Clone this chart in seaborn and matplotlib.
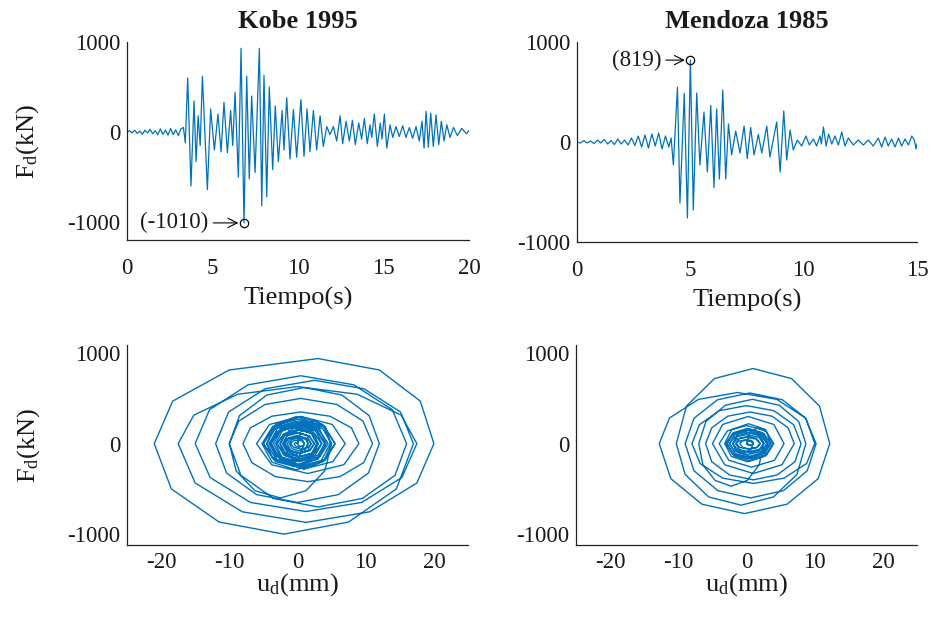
import matplotlib
matplotlib.use("Agg")
import matplotlib.pyplot as plt
import numpy as np
import pandas as pd
import seaborn as sns

# ---------------- data ----------------
kobe_t = [0.0, 0.15, 0.3, 0.45, 0.6, 0.75, 0.9, 1.05, 1.2, 1.35, 1.5, 1.65, 1.8, 1.95,
          2.1, 2.25, 2.4, 2.55, 2.7, 2.85, 3.0, 3.15, 3.3, 3.41, 3.55, 3.74, 3.92, 4.04,
          4.16, 4.28, 4.41, 4.70, 4.89, 5.11, 5.32, 5.50, 5.67, 5.87, 6.06, 6.18, 6.32,
          6.51, 6.67, 6.84, 7.0, 7.15, 7.29, 7.49, 7.74, 7.88, 8.01, 8.17, 8.32, 8.52,
          8.67, 8.85, 9.07, 9.18, 9.34, 9.53, 9.73, 9.92, 10.17, 10.35, 10.53, 10.70,
          10.90, 11.09, 11.29, 11.48, 11.68, 11.87, 12.07, 12.26, 12.46, 12.61, 12.81,
          13.0, 13.18, 13.35, 13.55, 13.72, 13.88, 14.05, 14.21, 14.31, 14.46, 14.64,
          14.81, 14.91, 15.05, 15.19, 15.38, 15.54, 15.73, 15.92, 16.12, 16.31, 16.51,
          16.70, 16.90, 17.09, 17.25, 17.37, 17.49, 17.62, 17.76, 17.91, 18.07, 18.23,
          18.38, 18.54, 18.70, 18.89, 19.09, 19.32, 19.57, 19.86, 20.0]
kobe_F = [0, 15, -10, 20, -15, 10, -25, 20, -10, 30, -20, 15, -30, 35,
          -25, 20, -35, 40, -30, 25, -40, 35, 50, -120, 600, -600, 345, -330,
          180, -150, 620, -640, 255, -200, 200, -220, 330, -230, 240, -150, 440,
          -500, 930, -1010, 620, -520, 400, -450, 930, -820, 630, -720, 500, -420,
          290, -330, 240, -200, 380, -300, 250, -280, 360, -270, 255, -220,
          240, -200, 180, -160, 60, -30, 60, -100, 180, -130, 120,
          -100, 130, -140, 100, -80, 150, -130, 80, -60, 200, -160,
          100, -80, 200, -180, 80, -60, 60, -50, 70, -60, 50,
          -70, 60, -100, 120, -180, 230, -170, 210, -160, 190, -140,
          120, -100, 80, -60, 50, -40, 40, -20, 20]

mendoza_t = [0.0, 0.15, 0.3, 0.45, 0.6, 0.75, 0.9, 1.05, 1.2, 1.35, 1.5, 1.65, 1.8,
             1.95, 2.1, 2.25, 2.4, 2.55, 2.7, 2.85, 3.0, 3.15, 3.3, 3.45, 3.6, 3.75,
             3.9, 4.05, 4.15, 4.25, 4.43, 4.54, 4.73, 4.87, 5.0, 5.13, 5.28, 5.42,
             5.60, 5.75, 5.90, 6.04, 6.16, 6.28, 6.43, 6.56, 6.68, 6.82, 7.0, 7.19,
             7.37, 7.51, 7.66, 7.81, 8.0, 8.15, 8.37, 8.51, 8.81, 8.96, 9.12, 9.25,
             9.40, 9.54, 9.72, 9.91, 10.1, 10.25, 10.43, 10.57, 10.72, 10.78, 10.87,
             10.99, 11.1, 11.24, 11.38, 11.53, 11.68, 11.82, 11.97, 12.19, 12.41,
             12.63, 12.85, 13.07, 13.29, 13.44, 13.59, 13.73, 13.88, 14.03, 14.18,
             14.32, 14.47, 14.62, 14.77, 14.88, 14.96, 15.0]
mendoza_F = [0, -10, 15, -10, 10, -15, 20, -10, 25, -20, 15, -25, 30,
             -20, 20, -30, 40, -35, 60, -50, 70, -60, 80, -40, 90, -70,
             60, -50, 40, -230, 550, -610, 485, -760, 819, -680, 490, -230,
             300, -300, 365, -455, 330, -370, 520, -370, 180, -130, 110, -110,
             160, -165, 145, -130, 75, -110, 160, -150, 200, -300, 310, -180,
             120, -80, 20, -40, 60, -30, 30, -40, 60, -20, 150,
             -40, 80, -20, 60, -30, 100, -40, 40, -30, 20,
             -30, 20, -40, 40, -50, 50, -40, 30, -50, 40,
             -40, 30, -30, 60, 20, -70, -20]

kobe_u_loop = [0,
    0.2, 0.75, 1.3, 1.5, 1.0, -0.25, -1.5, -2, -1.3, 0.5, 2.3, 3, 2.0, -0.5, -3.0, -4,
    -2.7, 0.5, 3.7, 5, 4.0, 1.25, -2.5, -6.25, -9.0, -10,
    -8.5, -4.5, 1, 6.5, 10.5, 12, 10.4, 6, 0, -6, -10.4, -12,
    -10.1, -4.75, 2.5, 9.75, 15.1, 17, 14.5, 7.5, -2, -11.5, -18.5, -21,
    -18.3, -10, 3, 12, 18, 20, 17.5, 10.6, 1.25, -8.1, -15.0, -17.5,
    -15.2, -8.75, 0, 8.75, 15.2, 17.5, 15.3, 9.4, 1.25, -6.9, -12.8, -15,
    -12.9, -7.25, 0.5, 8.25, 13.9, 16, 14.3, 9.5, 3, -3.5, -8.3, -10,
    -8.6, -4.75, 0.5, 5.75, 9.6, 11, 9.7, 6.25, 1.5, -3.25, -6.7, -8,
    -6.9, -3.75, 0.5, 4.75, 7.9, 9, 6.8, 1.5, -3.8, -6,
    -4.1, 0.5, 5.1, 7, 5.2, 1, -3.2, -5, -3.5, 0.25, 4.0, 5.5, 4.0, 0.25, -3.5, -5,
    -3.6, -0.25, 3.1, 4.5, 3.3, 0.25, -2.8, -4, -2.8, 0, 2.8, 4, 3.0, 0.5, -2.0, -3,
    -2.05, 0.25, 2.55, 3.5, 2.55, 0.25, -2.05, -3, -2.2, -0.25, 1.7, 2.5,
    1.85, 0.25, -1.35, -2, -1.4, 0, 1.4, 2, 1.55, 0.5, -0.55, -1, -0.7, 0, 0.7, 1,
    0.2, -1.75, -3.7, -4.5, -3.25, -0.25, 2.75, 4, 2.9, 0.25, -2.4, -3.5,
    -2.55, -0.25, 2.05, 3, 2.2, 0.25, -1.7, -2.5, -1.85, -0.25, 1.35, 2,
    1.5, 0.25, -1.0, -1.5, -1.1, -0.25, 0.6, 1, 0.78, 0.25, -0.28, -0.5, -0.25, 0,
    0.7, 2.4, 4.1, 4.8, 3.34, -0.2, -3.74, -5.2, -3.63, 0.15, 3.93, 5.5,
    4.04, 0.5, -3.04, -4.5, -3.23, -0.15, 2.93, 4.2, 3.03, 0.2, -2.63, -3.8,
    -2.51, 0.6, 3.71, 5, 3.8, 0.9, -2.0, -3.2, -2.2, 0.2, 2.6, 3.6,
    2.46, -0.3, -3.06, -4.2, -3.15, -0.6, 1.95, 3, 2.18, 0.2, -1.78, -2.6,
    -1.81, 0.1, 2.01, 2.8, 2.07, 0.3, -1.47, -2.2, -1.53, 0.1, 1.73, 2.4,
    1.78, 0.3, -1.18, -1.8, -1.3, -0.1, 1.1, 1.6, 1.19, 0.2, -0.79, -1.2,
    -0.88, -0.1, 0.68, 1, 0.85, 0.5, 0.15, 0]
kobe_F_loop = [0,
    42, 60, 42, 0, -85, -120, -85, 0, 141, 200, 141, 0, -177, -250, -177, 0,
    212, 300, 212, 0, -300, -520, -600, -520, -300, 0,
    310, 537, 620, 537, 310, 0, -325, -563, -650, -563, -325, 0,
    350, 606, 700, 606, 350, 0, -500, -866, -1000, -866, -500, 0,
    470, 814, 940, 814, 470, 0, -435, -753, -870, -753, -435, 0,
    315, 546, 630, 546, 315, 0, -375, -650, -750, -650, -375, 0,
    375, 650, 750, 650, 375, 0, -350, -606, -700, -606, -350, 0,
    250, 433, 500, 433, 250, 0, -210, -364, -420, -364, -210, 0,
    175, 303, 350, 303, 175, 0, -233, -330, -233, 0,
    212, 300, 212, 0, -198, -280, -198, 0, 177, 250, 177, 0, -177, -250, -177, 0,
    156, 220, 156, 0, -141, -200, -141, 0, 141, 200, 141, 0, -127, -180, -127, 0,
    106, 150, 106, 0, -99, -140, -99, 0, 85, 120, 85, 0,
    -71, -100, -71, 0, 57, 80, 57, 0, -42, -60, -42, 0, 28, 40, 28, 0,
    -156, -220, -156, 0, 170, 240, 170, 0, -163, -230, -163, 0,
    134, 190, 134, 0, -120, -170, -120, 0, 92, 130, 92, 0,
    -78, -110, -78, 0, 50, 70, 50, 0, -28, -40, -28, 0, 12, 0,
    184, 260, 184, 0, -205, -290, -205, 0, 191, 270, 191, 0,
    -184, -260, -184, 0, 212, 300, 212, 0, -170, -240, -170, 0,
    163, 230, 163, 0, -198, -280, -198, 0, 148, 210, 148, 0,
    -141, -200, -141, 0, 127, 180, 127, 0, -134, -190, -134, 0,
    113, 160, 113, 0, -106, -150, -106, 0, 85, 120, 85, 0,
    -78, -110, -78, 0, 64, 90, 64, 0, -57, -80, -57, 0,
    42, 60, 42, 0, -21, -30, -21, 0]

mendoza_u_loop = [0,
    0.15, 0.5, 0.85, 1, 0.56, -0.5, -1.56, -2, -1.35, 0.25, 1.85, 2.5,
    1.86, 0.1, -2.25, -4.6, -6.4, -7, -5.95, -3.1, 0.85, 4.8, 7.65, 8.7,
    7.4, 3.95, -0.8, -5.55, -9.0, -10.3, -8.8, -4.7, 0.95, 6.6, 10.7, 12.2,
    10.5, 5.95, -0.3, -6.55, -11.1, -12.8, -11.3, -7.05, -1.3, 4.45, 8.65, 10.2,
    8.9, 5.4, 0.6, -4.2, -7.7, -9, -7.7, -4.25, 0.5, 5.25, 8.7, 10,
    8.8, 5.5, 1, -3.5, -6.8, -8, -6.9, -4, 0, 4, 6.9, 8,
    7.1, 4.5, 1, -2.5, -5.1, -6, -5.1, -2.75, 0.5, 3.75, 6.1, 7,
    5.2, 1, -3.2, -5, -3.5, 0.25, 4.0, 5.5, 4.1, 0.75, -2.6, -4, -2.8, 0, 2.8, 4,
    3.0, 0.5, -2.0, -3, -2.05, 0.25, 2.55, 3.5, 2.55, 0.25, -2.05, -3,
    -2.1, 0, 2.1, 3, 2.2, 0.25, -1.7, -2.5, -1.77, 0, 1.77, 2.5,
    1.85, 0.25, -1.35, -2, -1.4, 0, 1.4, 2, 1.5, 0.25, -1.0, -1.5,
    -1.1, -0.25, 0.6, 1, 0.85, 0.5, 0.15, 0,
    0.51, 1.75, 2.99, 3.5, 2.52, 0.15, -2.22, -3.2, -2.17, 0.3, 2.77, 3.8,
    2.83, 0.5, -1.83, -2.8, -1.92, 0.2, 2.32, 3.2, 2.37, 0.35, -1.67, -2.5,
    -1.7, 0.25, 2.2, 3, 2.27, 0.5, -1.27, -2, -1.33, 0.3, 1.93, 2.6,
    1.98, 0.5, -0.98, -1.6, -1.07, 0.2, 1.47, 2, 1.56, 0.5, -0.56, -1,
    -0.7, 0, 0.7, 1, 0.88, 0.6, 0.32, 0.2]
mendoza_F_loop = [0,
    28, 40, 28, 0, -71, -100, -71, 0, 106, 150, 106, 0,
    -235, -407, -470, -407, -235, 0, 245, 424, 490, 424, 245, 0,
    -340, -589, -680, -589, -340, 0, 415, 719, 830, 719, 415, 0,
    -387, -669, -773, -669, -387, 0, 283, 489, 565, 489, 283, 0,
    -300, -520, -600, -520, -300, 0, 280, 485, 560, 485, 280, 0,
    -220, -381, -440, -381, -220, 0, 210, 364, 420, 364, 210, 0,
    -200, -346, -400, -346, -200, 0, 175, 303, 350, 303, 175, 0,
    -233, -330, -233, 0, 212, 300, 212, 0, -184, -260, -184, 0, 141, 200, 141, 0,
    -120, -170, -120, 0, 113, 160, 113, 0, -106, -150, -106, 0,
    92, 130, 92, 0, -85, -120, -85, 0, 71, 100, 71, 0,
    -64, -90, -64, 0, 50, 70, 50, 0, -42, -60, -42, 0,
    28, 40, 28, 0, -14, -20, -14, 0,
    127, 180, 127, 0, -141, -200, -141, 0, 156, 220, 156, 0,
    -134, -190, -134, 0, 120, 170, 120, 0, -113, -160, -113, 0,
    106, 150, 106, 0, -99, -140, -99, 0, 85, 120, 85, 0,
    -71, -100, -71, 0, 57, 80, 57, 0, -42, -60, -42, 0,
    28, 40, 28, 0, -14, -20, -14, 0]

titles = ["Kobe 1995", "Mendoza 1985"]
kobe_peak = (6.84, -1010)
mendoza_peak = (5.0, 819)
peak_labels = ["(-1010)", "(819)"]

# ---------------- style ----------------
sns.set_theme(style="white")
plt.rcParams["font.family"] = ["Liberation Serif", "DejaVu Serif"]
plt.rcParams["mathtext.fontset"] = "custom"
plt.rcParams["mathtext.rm"] = "Liberation Serif"
plt.rcParams["mathtext.it"] = "Liberation Serif:italic"
plt.rcParams["axes.unicode_minus"] = False

LINE = "#0072BD"
TXT = "#1a1a1a"
TICK_FS = 16.5
LAB_FS = 19
fig = plt.figure(figsize=(9.31, 6.26), dpi=100)
ax_tl = fig.add_axes([0.1364, 0.6166, 0.3674, 0.3163])
ax_tr = fig.add_axes([0.6198, 0.6134, 0.3652, 0.3195])
ax_bl = fig.add_axes([0.1364, 0.1294, 0.3663, 0.3195])
ax_br = fig.add_axes([0.6187, 0.1294, 0.3663, 0.3195])


def style(ax, xlim, ylim, xticks, yticks, xpad=5):
    ax.set_xlim(*xlim)
    ax.set_ylim(*ylim)
    ax.set_xticks(xticks)
    ax.set_yticks(yticks)
    for s in ["top", "right"]:
        ax.spines[s].set_visible(False)
    for s in ["left", "bottom"]:
        ax.spines[s].set_color("#222222")
        ax.spines[s].set_linewidth(0.9)
    ax.tick_params(direction="in", length=4, width=0.8, colors="#222222",
                   labelsize=TICK_FS, labelcolor=TXT, pad=5)
    ax.tick_params(axis="x", pad=xpad)
    ax.set_facecolor("white")


df_k = pd.DataFrame({"t": kobe_t, "F": kobe_F})
df_m = pd.DataFrame({"t": mendoza_t, "F": mendoza_F})
df_kh = pd.DataFrame({"u": kobe_u_loop, "F": kobe_F_loop})
df_mh = pd.DataFrame({"u": mendoza_u_loop, "F": mendoza_F_loop})

sns.lineplot(data=df_k, x="t", y="F", sort=False, estimator=None, color=LINE, lw=0.9, ax=ax_tl)
sns.lineplot(data=df_m, x="t", y="F", sort=False, estimator=None, color=LINE, lw=0.9, ax=ax_tr)
sns.lineplot(data=df_kh, x="u", y="F", sort=False, estimator=None, color=LINE, lw=1.0, ax=ax_bl)
sns.lineplot(data=df_mh, x="u", y="F", sort=False, estimator=None, color=LINE, lw=1.0, ax=ax_br)

style(ax_tl, (0, 20), (-1200, 1000), [0, 5, 10, 15, 20], [-1000, 0, 1000], xpad=13)
style(ax_tr, (0, 15), (-1000, 1000), [0, 5, 10, 15], [-1000, 0, 1000], xpad=13)
for ax in (ax_bl, ax_br):
    style(ax, (-25, 25), (-1120, 1090), [-20, -10, 0, 10, 20], [-1000, 0, 1000])

ax_tl.set_title(titles[0], fontsize=LAB_FS, fontweight="bold", color=TXT, pad=10)
ax_tr.set_title(titles[1], fontsize=LAB_FS, fontweight="bold", color=TXT, pad=10)

for ax in (ax_tl, ax_tr):
    ax.set_xlabel("Tiempo(s)", fontsize=LAB_FS, color=TXT, labelpad=6)
for ax in (ax_bl, ax_br):
    ax.set_xlabel(r"u$_\mathrm{d}$(mm)", fontsize=LAB_FS, color=TXT, labelpad=-1)
for ax in (ax_tr, ax_br):
    ax.set_ylabel("")
for ax in (ax_tl, ax_bl):
    ax.set_ylabel(r"F$_\mathrm{d}$(kN)", fontsize=LAB_FS, color=TXT)
    ax.yaxis.set_label_coords(-0.25, 0.5)

# peak markers + annotations
for ax, pk, lab, tx in ((ax_tl, kobe_peak, peak_labels[0], 2.78),
                        (ax_tr, mendoza_peak, peak_labels[1], 2.62)):
    ax.plot([pk[0]], [pk[1]], marker="o", ms=6, mfc="none", mec="black", mew=0.9)
    ax.annotate(lab, xy=pk, xytext=(tx, pk[1]), textcoords="data",
                ha="center", va="center", fontsize=TICK_FS, color=TXT,
                arrowprops=dict(arrowstyle="->", color="black", lw=0.8,
                                shrinkA=1, shrinkB=4))

fig.savefig("out.png", dpi=100, facecolor="white")
